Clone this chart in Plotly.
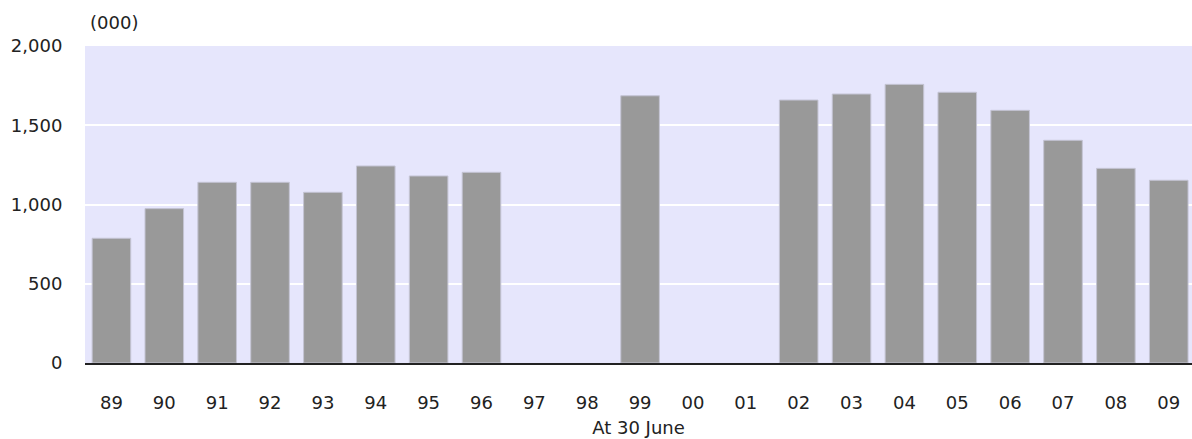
import plotly.graph_objects as go

years = ["89", "90", "91", "92", "93", "94", "95", "96", "97", "98", "99",
         "00", "01", "02", "03", "04", "05", "06", "07", "08", "09"]
values = [787, 974, 1140, 1140, 1077, 1243, 1180, 1203, None, None, 1686,
          None, None, 1659, 1697, 1758, 1708, 1594, 1405, 1228, 1153]
y_ticks = [0, 500, 1000, 1500, 2000]
y_tick_labels = ["0", "500", "1,000", "1,500", "2,000"]

FONT = "DejaVu Sans, Verdana, sans-serif"
FS = 18
TXT = "#222222"

fig = go.Figure(go.Bar(
    x=years, y=values,
    marker=dict(color="#999999", line=dict(color="#c4c4d4", width=1)),
    hoverinfo="x+y",
))

fig.update_layout(
    width=1192, height=439,
    margin=dict(l=85, r=0, t=46, b=76),
    paper_bgcolor="white",
    plot_bgcolor="#E6E6FC",
    bargap=0.27,
    showlegend=False,
    font=dict(family=FONT, size=FS, color=TXT),
    xaxis=dict(
        type="category",
        range=[-0.5, 20.44],
        showgrid=False,
        showline=True, linecolor="#222222", linewidth=2,
        ticks="outside", ticklen=22, tickcolor="rgba(0,0,0,0)",
        tickfont=dict(family=FONT, size=FS, color=TXT),
        title=dict(text="At 30 June", font=dict(family=FONT, size=FS, color=TXT), standoff=10),
    ),
    yaxis=dict(
        range=[0, 2000],
        tickvals=y_ticks, ticktext=y_tick_labels,
        showgrid=True, gridcolor="white", gridwidth=2,
        zeroline=False,
        ticks="outside", ticklen=18, tickcolor="rgba(0,0,0,0)",
        tickfont=dict(family=FONT, size=FS, color=TXT),
    ),
    annotations=[dict(
        text="(000)", xref="paper", yref="paper", x=0.0027, y=1.0726,
        xanchor="left", yanchor="middle", showarrow=False,
        font=dict(family=FONT, size=FS, color=TXT),
    )],
)

fig.write_html(
    "out.html",
    config={"displayModeBar": False},
    post_script="document.body.style.margin='0';document.body.style.overflow='hidden';",
)
